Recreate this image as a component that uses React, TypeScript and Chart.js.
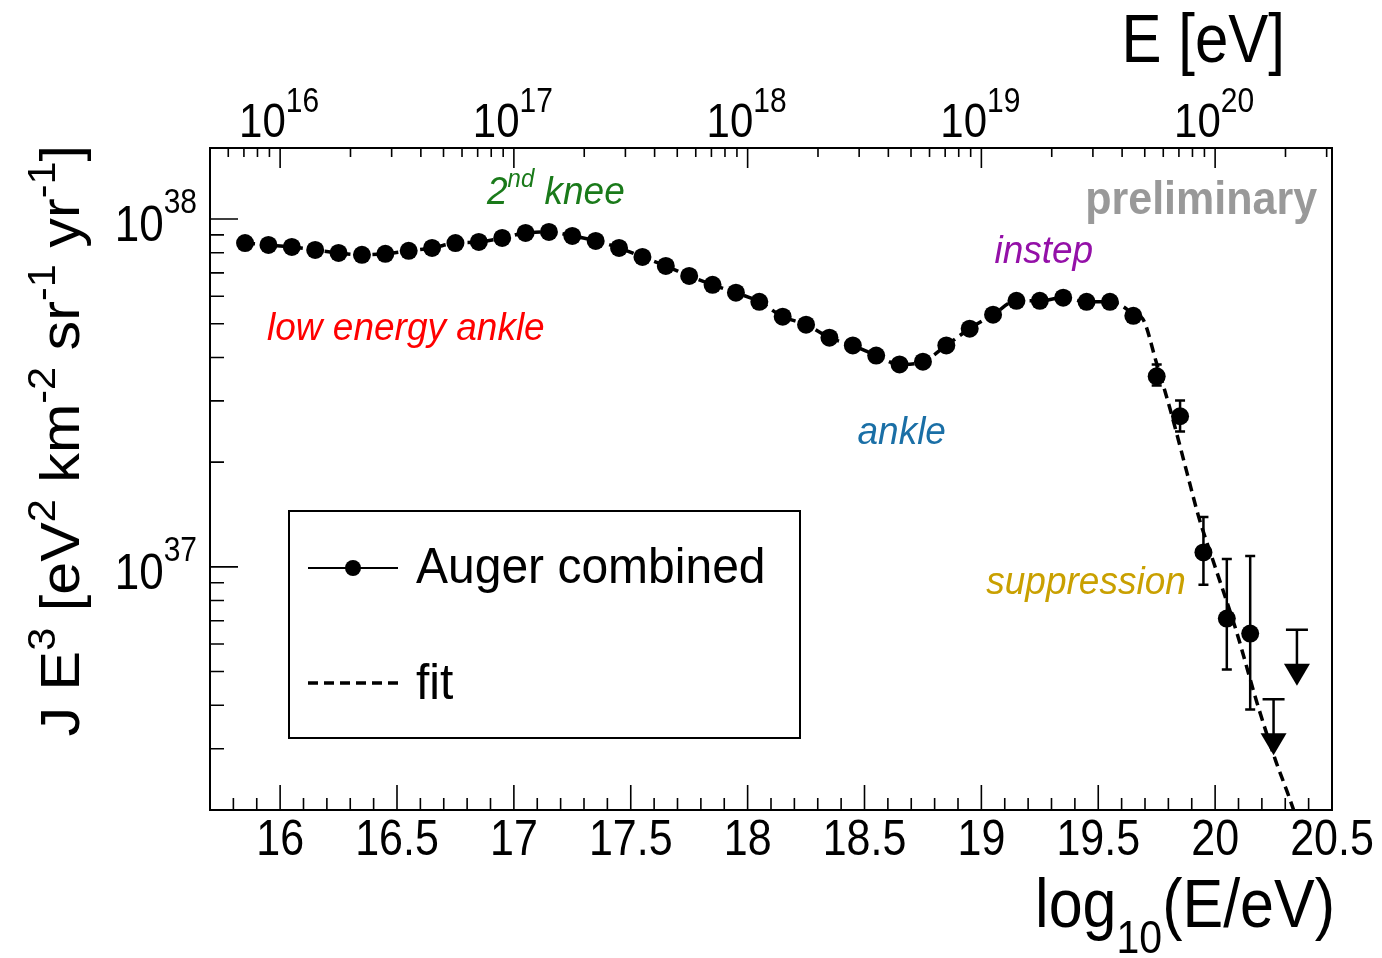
import React, { useEffect, useRef } from "react";
import { Chart, registerables } from "chart.js";

Chart.register(...registerables);

// ---------- data ----------
const logE = [
  15.85, 15.95, 16.05, 16.15, 16.25, 16.35, 16.45, 16.55, 16.65, 16.75,
  16.85, 16.95, 17.05, 17.15, 17.25, 17.35, 17.45, 17.55, 17.65, 17.75,
  17.85, 17.95, 18.05, 18.15, 18.25, 18.35, 18.45, 18.55, 18.65, 18.75,
  18.85, 18.95, 19.05, 19.15, 19.25, 19.35, 19.45, 19.55, 19.65, 19.75,
  19.85, 19.95, 20.05, 20.15,
];
const flux = [
  8.53e37, 8.42e37, 8.31e37, 8.15e37, 7.99e37, 7.89e37, 7.94e37, 8.1e37, 8.26e37, 8.53e37,
  8.59e37, 8.82e37, 9.12e37, 9.18e37, 8.94e37, 8.65e37, 8.26e37, 7.78e37, 7.33e37, 6.86e37,
  6.47e37, 6.14e37, 5.78e37, 5.24e37, 4.97e37, 4.56e37, 4.33e37, 4.05e37, 3.82e37, 3.89e37,
  4.33e37, 4.84e37, 5.31e37, 5.82e37, 5.82e37, 5.94e37, 5.78e37, 5.78e37, 5.27e37, 3.53e37,
  2.71e37, 1.1e37, 7.1e36, 6.43e36,
];
// error bar bounds (null = hidden inside marker)
const errHigh: (number | null)[] = [
  null, null, null, null, null, null, null, null, null, null,
  null, null, null, null, null, null, null, null, null, null,
  null, null, null, null, null, null, null, null, null, null,
  null, null, null, null, null, null, null, null, null, 3.82e37,
  3.01e37, 1.39e37, 1.054e37, 1.075e37,
];
const errLow: (number | null)[] = [
  null, null, null, null, null, null, null, null, null, null,
  null, null, null, null, null, null, null, null, null, null,
  null, null, null, null, null, null, null, null, null, null,
  null, null, null, null, null, null, null, null, null, 3.32e37,
  2.45e37, 8.88e36, 5.07e36, 3.89e36,
];
// upper limits
const limitLogE = [20.25, 20.35];
const limitFlux = [4.16e36, 6.6e36];

// fit curve
const fitLogE = [
  15.85, 15.95, 16.05, 16.15, 16.25, 16.35, 16.45, 16.55, 16.65, 16.75,
  16.85, 16.95, 17.05, 17.15, 17.25, 17.35, 17.45, 17.55, 17.65, 17.75,
  17.85, 17.95, 18.05, 18.15, 18.25, 18.35, 18.45, 18.55, 18.65, 18.75,
  18.85, 18.95, 19.05, 19.15, 19.25, 19.35, 19.45, 19.55, 19.6, 19.65,
  19.69, 19.75, 19.81, 19.88, 19.93, 20.0, 20.09, 20.18, 20.26, 20.31, 20.4,
];
const fitFlux = [
  8.53e37, 8.42e37, 8.31e37, 8.15e37, 7.99e37, 7.89e37, 7.94e37, 8.1e37, 8.26e37, 8.53e37,
  8.59e37, 8.82e37, 9.12e37, 9.18e37, 8.94e37, 8.65e37, 8.26e37, 7.78e37, 7.33e37, 6.86e37,
  6.47e37, 6.14e37, 5.78e37, 5.24e37, 4.97e37, 4.56e37, 4.33e37, 4.05e37, 3.82e37, 3.89e37,
  4.33e37, 4.84e37, 5.31e37, 5.82e37, 5.82e37, 5.94e37, 5.78e37, 5.78e37, 5.63e37, 5.34e37,
  5.17e37, 3.84e37, 2.8e37, 1.86e37, 1.39e37, 1.0e37, 6.56e36, 4.05e36, 2.76e36, 2.24e36, 1.5e36,
];

// axes
const xMin = 15.7;
const xMax = 20.5;
const yMin = 2e36;
const yMax = 1.6e38;
const xMajorTicks = [16, 16.5, 17, 17.5, 18, 18.5, 19, 19.5, 20, 20.5];
const xMajorLabels = ["16", "16.5", "17", "17.5", "18", "18.5", "19", "19.5", "20", "20.5"];
const topExponents = [16, 17, 18, 19, 20];
const yExponents = [37, 38];

// annotations
const annotations = [
  { parts: [{ t: "2" }, { t: "nd", sup: true }, { t: " knee" }], x: 16.885, y: 1.104e38, color: "#1a7a1a", align: "left" },
  { parts: [{ t: "low energy ankle" }], x: 15.944, y: 4.5e37, color: "#ff0000", align: "left" },
  { parts: [{ t: "ankle" }], x: 18.47, y: 2.25e37, color: "#1a6fa6", align: "left" },
  { parts: [{ t: "instep" }], x: 19.056, y: 7.48e37, color: "#9410a8", align: "left" },
  { parts: [{ t: "suppression" }], x: 19.021, y: 8.37e36, color: "#c9a000", align: "left" },
];
const prelimText = { t: "preliminary", x: 20.436, y: 1.033e38, color: "#999999" };

const FONT = '"Liberation Sans", Arial, Helvetica, sans-serif';

type Part = { t: string; size: number; dy?: number; style?: string; weight?: string };

function fontOf(p: Part) {
  return `${p.style || "normal"} ${p.weight || "normal"} ${p.size}px ${FONT}`;
}
function widthOf(ctx: CanvasRenderingContext2D, parts: Part[]) {
  let w = 0;
  for (const p of parts) {
    ctx.font = fontOf(p);
    w += ctx.measureText(p.t).width;
  }
  return w;
}
function drawParts(
  ctx: CanvasRenderingContext2D,
  parts: Part[],
  x: number,
  y: number,
  align: "left" | "center" | "right",
  color: string,
  vs = 1
) {
  const w = widthOf(ctx, parts);
  let cx = align === "left" ? x : align === "center" ? x - w / 2 : x - w;
  ctx.fillStyle = color;
  ctx.textBaseline = "alphabetic";
  ctx.textAlign = "left";
  for (const p of parts) {
    ctx.font = fontOf(p);
    ctx.save();
    ctx.translate(cx, y + (p.dy || 0) * vs);
    ctx.scale(1, vs);
    ctx.fillText(p.t, 0, 0);
    ctx.restore();
    cx += ctx.measureText(p.t).width;
  }
}

const rootPlugin = {
  id: "rootStyle",
  afterDatasetsDraw(chart: any) {
    const ctx: CanvasRenderingContext2D = chart.ctx;
    const xs = chart.scales.x;
    const ys = chart.scales.y;
    ctx.save();
    ctx.strokeStyle = "#000";
    ctx.fillStyle = "#000";
    ctx.lineWidth = 2.5;
    // error bars
    for (let i = 0; i < logE.length; i++) {
      const hi = errHigh[i];
      const lo = errLow[i];
      if (hi == null || lo == null) continue;
      const x = xs.getPixelForValue(logE[i]);
      const yh = ys.getPixelForValue(hi);
      const yl = ys.getPixelForValue(lo);
      ctx.beginPath();
      ctx.moveTo(x, yh);
      ctx.lineTo(x, yl);
      ctx.moveTo(x - 5, yh);
      ctx.lineTo(x + 5, yh);
      ctx.moveTo(x - 5, yl);
      ctx.lineTo(x + 5, yl);
      ctx.stroke();
    }
    // upper limits
    for (let i = 0; i < limitLogE.length; i++) {
      const x = xs.getPixelForValue(limitLogE[i]);
      const yt = ys.getPixelForValue(limitFlux[i]);
      ctx.beginPath();
      ctx.moveTo(x - 11, yt);
      ctx.lineTo(x + 11, yt);
      ctx.moveTo(x, yt);
      ctx.lineTo(x, yt + 35);
      ctx.stroke();
      ctx.beginPath();
      ctx.moveTo(x - 13, yt + 34);
      ctx.lineTo(x + 13, yt + 34);
      ctx.lineTo(x, yt + 56);
      ctx.closePath();
      ctx.fill();
    }
    ctx.restore();
  },
  afterDraw(chart: any) {
    const ctx: CanvasRenderingContext2D = chart.ctx;
    const xs = chart.scales.x;
    const ys = chart.scales.y;
    const a = chart.chartArea;
    ctx.save();
    ctx.strokeStyle = "#000";
    ctx.lineWidth = 2;
    // frame
    ctx.strokeRect(a.left, a.top, a.right - a.left, a.bottom - a.top);

    ctx.lineWidth = 1.6;
    ctx.beginPath();
    // bottom ticks: minor every 0.1, major every 0.5
    for (let k = Math.ceil(xMin * 10); k <= Math.floor(xMax * 10); k++) {
      const v = k / 10;
      const x = xs.getPixelForValue(v);
      const major = k % 5 === 0;
      ctx.moveTo(x, a.bottom);
      ctx.lineTo(x, a.bottom - (major ? 25 : 12));
    }
    // top ticks: logarithmic in E
    for (let e = 15; e <= 20; e++) {
      for (let m = 1; m <= 9; m++) {
        const v = e + Math.log10(m);
        if (v < xMin + 0.001 || v > xMax) continue;
        const x = xs.getPixelForValue(v);
        ctx.moveTo(x, a.top);
        ctx.lineTo(x, a.top + (m === 1 ? 20 : 9));
      }
    }
    // left ticks
    for (let e = 36; e <= 38; e++) {
      for (let m = 1; m <= 9; m++) {
        const v = m * Math.pow(10, e);
        if (v < yMin * 1.001 || v > yMax) continue;
        const y = ys.getPixelForValue(v);
        ctx.moveTo(a.left, y);
        ctx.lineTo(a.left + (m === 1 ? 28 : 14), y);
      }
    }
    ctx.stroke();

    const VS = 1.15;
    // bottom labels
    for (let i = 0; i < xMajorTicks.length; i++) {
      const x = xs.getPixelForValue(xMajorTicks[i]);
      drawParts(ctx, [{ t: xMajorLabels[i], size: 43 }], x, a.bottom + 45, "center", "#000", VS);
    }
    // top labels
    for (const e of topExponents) {
      const x = xs.getPixelForValue(e);
      drawParts(
        ctx,
        [
          { t: "10", size: 42 },
          { t: String(e), size: 30, dy: -22 },
        ],
        x - 1,
        a.top - 11,
        "center",
        "#000",
        VS
      );
    }
    // left labels
    for (const e of yExponents) {
      const y = ys.getPixelForValue(Math.pow(10, e));
      drawParts(
        ctx,
        [
          { t: "10", size: 44 },
          { t: String(e), size: 30, dy: -24 },
        ],
        a.left - 13,
        y + 22,
        "right",
        "#000",
        VS
      );
    }

    // axis titles
    drawParts(
      ctx,
      [
        { t: "log", size: 61 },
        { t: "10", size: 41, dy: 23 },
        { t: "(E/eV)", size: 61 },
      ],
      a.right + 3,
      a.bottom + 117,
      "right",
      "#000",
      1.12
    );
    drawParts(ctx, [{ t: "E [eV]", size: 60 }], a.right - 47, 62, "right", "#000", 1.13);
    ctx.save();
    ctx.translate(79, a.top - 3);
    ctx.rotate(-Math.PI / 2);
    ctx.scale(1.06, 1);
    const T = 56;
    const S = 39;
    const D = -24;
    drawParts(
      ctx,
      [
        { t: "J E", size: T },
        { t: "3", size: S, dy: D },
        { t: " [eV", size: T },
        { t: "2", size: S, dy: D },
        { t: " km", size: T },
        { t: "-2", size: S, dy: D },
        { t: " sr", size: T },
        { t: "-1", size: S, dy: D },
        { t: " yr", size: T },
        { t: "-1", size: S, dy: D },
        { t: "]", size: T },
      ],
      0,
      0,
      "right",
      "#000"
    );
    ctx.restore();

    // annotations
    for (const an of annotations) {
      const x = xs.getPixelForValue(an.x);
      const y = ys.getPixelForValue(an.y);
      const parts: Part[] = an.parts.map((p: any) =>
        p.sup ? { t: p.t, size: 24, dy: -16, style: "italic" } : { t: p.t, size: 37, style: "italic" }
      );
      drawParts(ctx, parts, x, y, an.align as any, an.color, 1.06);
    }
    drawParts(
      ctx,
      [{ t: prelimText.t, size: 43, weight: "bold" }],
      xs.getPixelForValue(prelimText.x),
      ys.getPixelForValue(prelimText.y),
      "right",
      prelimText.color,
      1.06
    );

    // legend
    const lx = 289, ly = 511, lw = 511, lh = 227;
    ctx.fillStyle = "#fff";
    ctx.fillRect(lx, ly, lw, lh);
    ctx.lineWidth = 2;
    ctx.strokeStyle = "#000";
    ctx.strokeRect(lx, ly, lw, lh);
    const ds = chart.data.datasets;
    // entry 1: line + marker
    ctx.lineWidth = 2;
    ctx.setLineDash([]);
    ctx.beginPath();
    ctx.moveTo(308, 568);
    ctx.lineTo(398, 568);
    ctx.stroke();
    ctx.beginPath();
    ctx.arc(353, 568, 8, 0, Math.PI * 2);
    ctx.fillStyle = "#000";
    ctx.fill();
    drawParts(ctx, [{ t: ds[0].label, size: 48 }], 416, 583, "left", "#000", 1.04);
    // entry 2: dashed
    ctx.lineWidth = 3.5;
    ctx.setLineDash([10, 6]);
    ctx.beginPath();
    ctx.moveTo(308, 683);
    ctx.lineTo(398, 683);
    ctx.stroke();
    ctx.setLineDash([]);
    drawParts(ctx, [{ t: ds[1].label, size: 48 }], 416, 699, "left", "#000", 1.04);

    ctx.restore();
  },
};

export default function App() {
  const ref = useRef<HTMLCanvasElement | null>(null);
  useEffect(() => {
    document.body.style.margin = "0";
    const canvas = ref.current;
    if (!canvas) return;
    const chart = new Chart(canvas, {
      type: "scatter",
      data: {
        datasets: [
          {
            label: "Auger combined",
            data: logE.map((x, i) => ({ x, y: flux[i] })),
            pointRadius: 9,
            pointHoverRadius: 9,
            pointBackgroundColor: "#000",
            pointBorderColor: "#000",
            pointBorderWidth: 0,
            showLine: false,
            order: 2,
          } as any,
          {
            label: "fit",
            type: "line",
            data: fitLogE.map((x, i) => ({ x, y: fitFlux[i] })),
            borderColor: "#000",
            borderWidth: 3.5,
            borderDash: [10, 6],
            pointRadius: 0,
            cubicInterpolationMode: "monotone",
            fill: false,
            showLine: true,
            order: 1,
          } as any,
        ],
      },
      options: {
        animation: false,
        responsive: false,
        devicePixelRatio: 1,
        events: [],
        layout: { padding: { left: 210, top: 148, right: 50, bottom: 148 } },
        plugins: { legend: { display: false }, tooltip: { enabled: false } },
        scales: {
          x: { type: "linear", min: xMin, max: xMax, display: false },
          y: { type: "logarithmic", min: yMin, max: yMax, display: false },
        },
      },
      plugins: [rootPlugin],
    } as any);
    return () => chart.destroy();
  }, []);
  return (
    <div style={{ position: "absolute", left: 0, top: 0, width: 1382, height: 958, background: "#fff" }}>
      <canvas ref={ref} width={1382} height={958} style={{ display: "block" }} />
    </div>
  );
}
